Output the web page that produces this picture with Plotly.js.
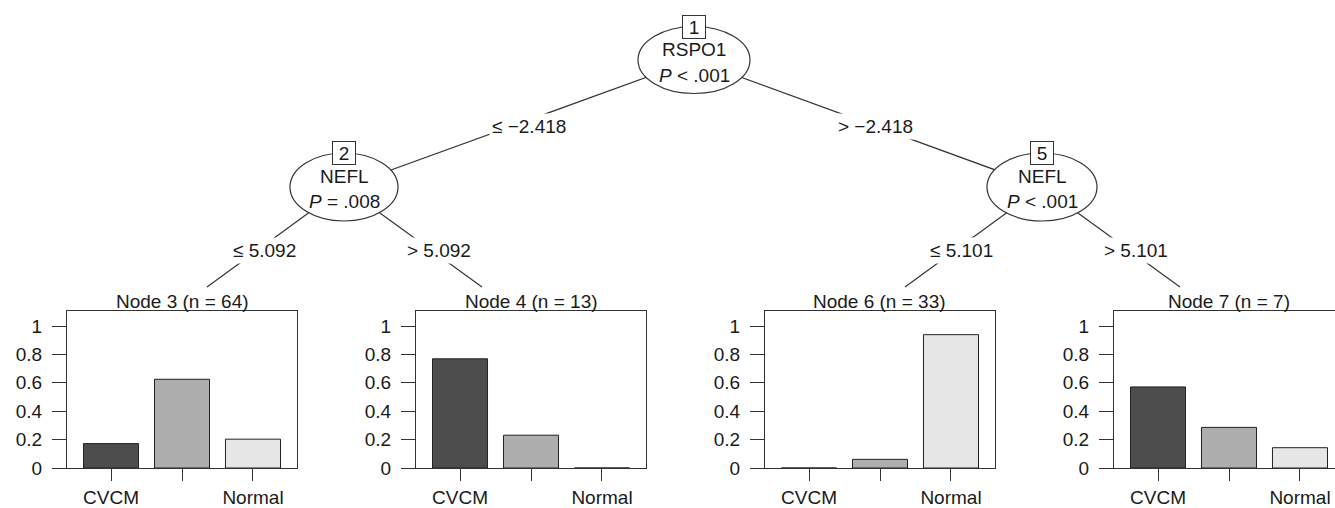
<!DOCTYPE html>
<html>
<head>
<meta charset="utf-8">
<script src="https://cdn.plot.ly/plotly-3.0.1.min.js"></script>
<style>
html,body{margin:0;padding:0;background:#fff;}
#chart{width:1335px;height:508px;}
</style>
</head>
<body>
<div id="chart"></div>
<script>
// ---------------- data ----------------
const classLabels = ["CVCM", "", "Normal"];          // middle class label not printed in the figure
const terminalIds = [3, 4, 6, 7];
const terminalN = [64, 13, 33, 7];
const node3Props = [0.172, 0.625, 0.203];
const node4Props = [0.769, 0.231, 0.0];
const node6Props = [0.0, 0.061, 0.939];
const node7Props = [0.571, 0.286, 0.143];
const innerIds = [1, 2, 5];
const splitVars = ["RSPO1", "NEFL", "NEFL"];
const pValues = ["&lt; .001", "= .008", "&lt; .001"];
const edgeLabels = ["≤ −2.418", "&gt; −2.418", "≤ 5.092", "&gt; 5.092", "≤ 5.101", "&gt; 5.101"];
const yTickVals = [0, 0.2, 0.4, 0.6, 0.8, 1];
const yTickText = ["0", "0.2", "0.4", "0.6", "0.8", "1"];
const barColors = ["#4D4D4D", "#AEAEAE", "#E6E6E6"];

const terminalProps = [node3Props, node4Props, node6Props, node7Props];

// ---------------- geometry (pixels) ----------------
const W = 1335, H = 508;
const fx = v => v / W;
const fy = v => 1 - v / H;
const FONT = "Liberation Sans, Arial, Helvetica, sans-serif";
const TXT = "#1a1a1a";
const LINE = "#333333";

const panelLeft = [67, 416, 765, 1114];
const panelW = 230, panelTop = 311, panelBottom = 468;
const padUnits = 0.62;
const unitPx = panelW / (2 + 2 * padUnits);
const yMax = (panelBottom - panelTop) / 142;   // 1 unit = 142 px

// inner nodes: center, radii
const innerGeo = {
  1: {x: 694, y: 60, rx: 56, ry: 33.5},
  2: {x: 344, y: 187, rx: 54, ry: 34},
  5: {x: 1042, y: 187, rx: 55, ry: 34}
};
const termEnds = {3: [207, 287], 4: [482, 287], 6: [905, 287], 7: [1180, 287]};
const edges = [[1, 2], [1, 5], [2, 3], [2, 4], [5, 6], [5, 7]];
const edgeLabelPos = [[529, 126], [875, 126], [264, 250.5], [438.5, 250.5], [961, 250.5], [1136, 250.5]];

const data = [];
const layout = {
  width: W, height: H,
  margin: {l: 0, r: 0, t: 0, b: 0},
  paper_bgcolor: "#fff", plot_bgcolor: "#fff",
  showlegend: false,
  font: {family: FONT, size: 19, color: TXT},
  shapes: [], annotations: []
};

// bar panels
terminalIds.forEach((id, i) => {
  const k = i + 1;
  const xa = "xaxis" + (k === 1 ? "" : k), ya = "yaxis" + (k === 1 ? "" : k);
  const left = panelLeft[i];
  const rightPx = Math.min(W, left + panelW);
  const xr1 = -padUnits + (rightPx - left) / unitPx;
  data.push({
    type: "bar",
    x: [0, 1, 2],
    y: terminalProps[i],
    width: 0.775,
    marker: {color: barColors, line: {color: "#222", width: 1}},
    xaxis: "x" + (k === 1 ? "" : k), yaxis: "y" + (k === 1 ? "" : k),
    hoverinfo: "skip"
  });
  layout[xa] = {
    domain: [fx(left), fx(rightPx)],
    range: [-padUnits, xr1],
    anchor: "y" + (k === 1 ? "" : k),
    tickvals: [0, 1, 2], ticktext: classLabels,
    ticks: "outside", ticklen: 12, tickcolor: LINE, tickwidth: 1,
    showline: true, mirror: true, linecolor: LINE, linewidth: 1,
    showgrid: false, zeroline: false, fixedrange: true,
    tickfont: {family: FONT, size: 19, color: TXT}
  };
  layout[ya] = {
    domain: [fy(panelBottom), fy(panelTop)],
    range: [0, yMax],
    anchor: "x" + (k === 1 ? "" : k),
    tickvals: yTickVals, ticktext: yTickText,
    ticks: "outside", ticklen: 14, tickcolor: LINE, tickwidth: 1,
    ticklabelstandoff: 6,
    showline: true, mirror: (left + panelW <= W), linecolor: LINE, linewidth: 1,
    showgrid: false, zeroline: false, fixedrange: true,
    tickfont: {family: FONT, size: 19, color: TXT}
  };
  layout.annotations.push({
    xref: "paper", yref: "paper",
    x: fx(left + panelW / 2), y: fy(301),
    xanchor: "center", yanchor: "middle",
    text: "Node " + id + " (n = " + terminalN[i] + ")",
    showarrow: false, font: {family: FONT, size: 19, color: TXT}
  });
});

// edges
edges.forEach(([a, b], j) => {
  const p = innerGeo[a];
  const c = innerGeo[b] ? [innerGeo[b].x, innerGeo[b].y] : termEnds[b];
  layout.shapes.push({
    type: "line", xref: "paper", yref: "paper",
    x0: fx(p.x), y0: fy(p.y), x1: fx(c[0]), y1: fy(c[1]),
    line: {color: LINE, width: 1.2}
  });
  layout.annotations.push({
    xref: "paper", yref: "paper",
    x: fx(edgeLabelPos[j][0]), y: fy(edgeLabelPos[j][1]),
    xanchor: "center", yanchor: "middle",
    text: edgeLabels[j], showarrow: false,
    bgcolor: "#fff", borderpad: 2,
    font: {family: FONT, size: 19, color: TXT}
  });
});

// inner nodes
innerIds.forEach((id, i) => {
  const g = innerGeo[id];
  layout.shapes.push({
    type: "circle", xref: "paper", yref: "paper",
    x0: fx(g.x - g.rx), x1: fx(g.x + g.rx),
    y0: fy(g.y + g.ry), y1: fy(g.y - g.ry),
    fillcolor: "#fff", line: {color: LINE, width: 1.2}
  });
  const top = g.y - g.ry;
  layout.annotations.push({
    xref: "paper", yref: "paper", x: fx(g.x), y: fy(top + 23),
    xanchor: "center", yanchor: "middle",
    text: splitVars[i], showarrow: false,
    font: {family: FONT, size: 19, color: TXT}
  });
  layout.annotations.push({
    xref: "paper", yref: "paper", x: fx(g.x), y: fy(top + 49),
    xanchor: "center", yanchor: "middle",
    text: "<i>P</i> " + pValues[i], showarrow: false,
    font: {family: FONT, size: 19, color: TXT}
  });
  layout.annotations.push({
    xref: "paper", yref: "paper", x: fx(g.x), y: fy(top),
    xanchor: "center", yanchor: "middle",
    text: String(id), showarrow: false,
    width: 20, height: 20, borderpad: 1,
    bgcolor: "#fff", bordercolor: LINE, borderwidth: 1,
    font: {family: FONT, size: 19, color: TXT}
  });
});

Plotly.newPlot("chart", data, layout, {staticPlot: true, displayModeBar: false});
</script>
</body>
</html>
